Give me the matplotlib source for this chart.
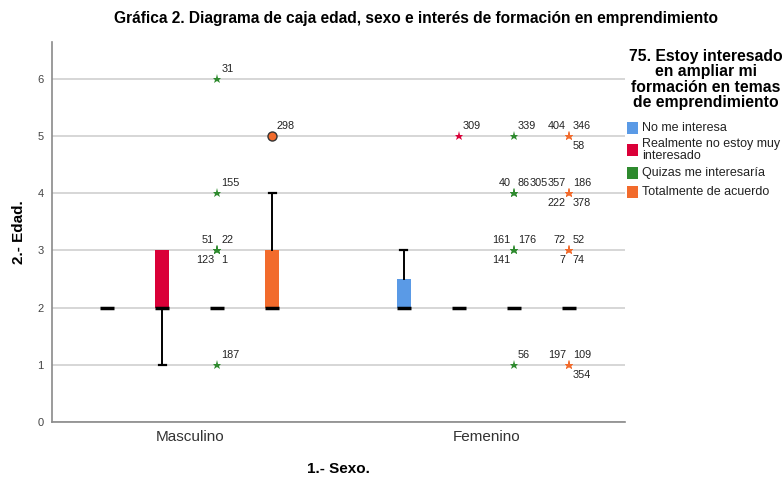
import matplotlib.pyplot as plt
from matplotlib.patches import Rectangle

plt.rcParams['font.family'] = ['Liberation Sans', 'DejaVu Sans']

# data
groups = ['Masculino', 'Femenino']
series = ['No me interesa', 'Realmente no estoy muy\ninteresado',
          'Quizas me interesaría', 'Totalmente de acuerdo']
colors = ['#5A9AE6', '#DA0038', '#2E8A2E', '#F26B2C']

q1 = [[2, 2, 2, 2], [2, 2, 2, 2]]
med = [[2, 2, 2, 2], [2, 2, 2, 2]]
q3 = [[2, 3, 2, 3], [2.5, 2, 2, 2]]
whislo = [[2, 1, 2, 2], [2, 2, 2, 2]]
whishi = [[2, 3, 2, 4], [3, 2, 2, 2]]

# (group, series, value, case label, kind)  kind: 'o' outlier, '*' extreme
outliers = [
    (0, 2, 6, '31', '*'), (0, 2, 4, '155', '*'),
    (0, 2, 3, '51', '*'), (0, 2, 3, '22', '*'), (0, 2, 3, '123', '*'), (0, 2, 3, '1', '*'),
    (0, 2, 1, '187', '*'), (0, 3, 5, '298', 'o'),
    (1, 1, 5, '309', '*'),
    (1, 2, 5, '339', '*'), (1, 2, 4, '40', '*'), (1, 2, 4, '86', '*'), (1, 2, 4, '305', '*'),
    (1, 2, 3, '161', '*'), (1, 2, 3, '176', '*'), (1, 2, 3, '141', '*'), (1, 2, 1, '56', '*'),
    (1, 3, 5, '404', '*'), (1, 3, 5, '346', '*'), (1, 3, 5, '58', '*'),
    (1, 3, 4, '357', '*'), (1, 3, 4, '186', '*'), (1, 3, 4, '222', '*'), (1, 3, 4, '378', '*'),
    (1, 3, 3, '72', '*'), (1, 3, 3, '52', '*'), (1, 3, 3, '7', '*'), (1, 3, 3, '74', '*'),
    (1, 3, 1, '197', '*'), (1, 3, 1, '109', '*'), (1, 3, 1, '354', '*'),
]

# where each case label sits around its marker (default upper right)
label_pos = {'51': 'ul', '123': 'll', '1': 'lr', '40': 'ul', '305': 'ur2',
             '161': 'ul', '141': 'll', '404': 'ul', '58': 'lr', '357': 'ul',
             '222': 'll', '378': 'lr', '72': 'ul', '7': 'll', '74': 'lr',
             '197': 'ul', '354': 'lr'}
pos_style = {'ur': (4, 10, 'left'), 'ul': (-3, 10, 'right'),
             'lr': (4, -10, 'left'), 'll': (-3, -10, 'right'),
             'ur2': (16, 10, 'left')}

step = 0.1855
offsets = [-1.5 * step, -0.5 * step, 0.5 * step, 1.5 * step]
box_w = 0.047

fig = plt.figure(figsize=(7.84, 4.79), dpi=100)
ax = fig.add_axes([0.0663, 0.119, 0.731, 0.793])

for g in range(len(groups)):
    for s in range(len(series)):
        st = [dict(med=med[g][s], q1=q1[g][s], q3=q3[g][s],
                   whislo=whislo[g][s], whishi=whishi[g][s], fliers=[])]
        art = ax.bxp(st, positions=[g + offsets[s]], widths=box_w, patch_artist=True,
                     showfliers=False, capwidths=0.024,
                     boxprops=dict(facecolor=colors[s], edgecolor=colors[s], linewidth=0),
                     medianprops=dict(color='black', linewidth=2.5, solid_capstyle='butt'),
                     whiskerprops=dict(color='black', linewidth=1.4),
                     capprops=dict(color='black', linewidth=1.6), zorder=3)
        # no cap when the whisker has no length
        art['caps'][0].set_visible(whislo[g][s] < q1[g][s])
        art['caps'][1].set_visible(whishi[g][s] > q3[g][s])

for g, s, v, lab, kind in outliers:
    x = g + offsets[s]
    if kind == 'o':
        ax.plot(x, v, 'o', ms=6.5, mfc=colors[s], mec='#333333', mew=1, zorder=4)
    else:
        ax.plot(x, v, '*', ms=6.5, color=colors[s], mew=0, zorder=4)
    dx, dy, ha = pos_style[label_pos.get(lab, 'ur')]
    ax.annotate(lab, (x, v), xytext=(dx, dy), textcoords='offset pixels',
                ha=ha, va='center', fontsize=7.8, color='#222222')

ax.set_xlim(-0.464, 1.468)
ax.set_ylim(0, 6.64)
ax.set_xticks(range(len(groups)))
ax.set_xticklabels(groups, fontsize=11, color='#333333')
ax.set_yticks(range(0, 7))
ax.tick_params(axis='y', labelsize=8, colors='#444444', length=0, pad=6)
ax.tick_params(axis='x', length=0, pad=6)
ax.grid(axis='y', color='#CFCFCF', linewidth=1.2, zorder=0)
ax.set_axisbelow(True)
for sp in ['top', 'right']:
    ax.spines[sp].set_visible(False)
for sp in ['left', 'bottom']:
    ax.spines[sp].set_color('#8A8A8A')
    ax.spines[sp].set_linewidth(1.2)

ax.set_xlabel('1.- Sexo.', fontsize=11, fontweight='bold', labelpad=13)
ax.set_ylabel('2.- Edad.', fontsize=11, fontweight='bold', labelpad=8)
fig.text(0.531, 0.962, 'Gráfica 2. Diagrama de caja edad, sexo e interés de formación en emprendimiento',
         ha='center', va='center', fontsize=11.2, fontweight='bold')

# legend drawn by hand to follow the original layout
W, H = 784, 479
title_lines = ['75. Estoy interesado', 'en ampliar mi', 'formación en temas', 'de emprendimiento']
for i, t in enumerate(title_lines):
    fig.text(706 / W, 1 - (56 + 15.5 * i) / H, t, ha='center', va='center',
             fontsize=11.3, fontweight='bold')
item_y = [128, 150, 173, 192]
for s in range(len(series)):
    y = item_y[s]
    fig.patches.append(Rectangle((627 / W, 1 - (y + 6) / H), 11 / W, 12 / H,
                                 transform=fig.transFigure, facecolor=colors[s],
                                 edgecolor='none'))
    fig.text(642 / W, 1 - y / H, series[s], ha='left', va='center',
             fontsize=9, color='#222222', linespacing=1.0)

fig.savefig('out.png', dpi=100)
